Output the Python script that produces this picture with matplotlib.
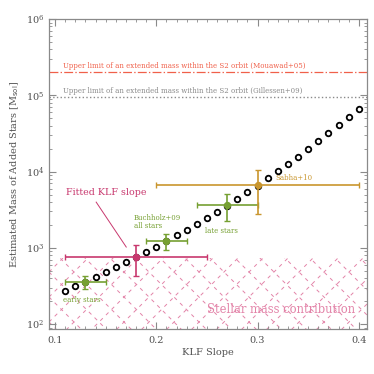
import numpy as np
import matplotlib
matplotlib.use("Agg")
import matplotlib.pyplot as plt
from matplotlib.ticker import LogLocator, MultipleLocator, NullFormatter
from matplotlib.patches import Rectangle

plt.rcParams['font.family'] = ['DejaVu Serif']
plt.rcParams['lines.scale_dashes'] = False

# Data
klf_slope = [0.11, 0.12, 0.13, 0.14, 0.15, 0.16, 0.17, 0.18, 0.19, 0.20,
             0.21, 0.22, 0.23, 0.24, 0.25, 0.26, 0.27, 0.28, 0.29, 0.30,
             0.31, 0.32, 0.33, 0.34, 0.35, 0.36, 0.37, 0.38, 0.39, 0.40]
added_mass = [268, 312, 357, 413, 477, 554, 645, 750, 879, 1023,
              1227, 1455, 1709, 2067, 2475, 2970, 3580, 4353, 5330, 6550,
              8150, 10250, 12540, 15630, 19720, 24890, 31700, 40360, 51870, 66070]

mouawad_limit = 2.0e5
gillessen_limit = 9.4e4
stellar_mass_level = 740

# Error-bar measurements: x, y, xerr, y_low, y_high
fitted_x, fitted_y, fitted_xerr, fitted_ylo, fitted_yhi = 0.18, 750, 0.07, 426, 1077
early_x, early_y, early_xerr, early_ylo, early_yhi = 0.13, 352, 0.02, 285, 430
all_x, all_y, all_xerr, all_ylo, all_yhi = 0.21, 1236, 0.02, 933, 1527
late_x, late_y, late_xerr, late_ylo, late_yhi = 0.27, 3640, 0.03, 2265, 5025
sabha_x, sabha_y, sabha_xerr, sabha_ylo, sabha_yhi = 0.30, 6650, 0.10, 2775, 10480

RED = '#c8386e'
GREEN = '#76a032'
GOLD = '#c9962e'
PINK = '#e383a8'
ORANGE = '#f0604a'
GRAY = '#8a8a8a'
TXT = '#505050'

fig = plt.figure(figsize=(3.74, 3.74), dpi=100)
AX_RECT = [0.131, 0.120, 0.850, 0.829]
ax = fig.add_axes(AX_RECT)
xmin, xmax = 0.094, 0.408
ymin, ymax = 86, 1e6
ax.set_xlim(xmin, xmax)
ax.set_yscale('log')
ax.set_ylim(ymin, ymax)

# stellar mass region: dashed diagonal cross-hatching
clip = Rectangle((xmin, ymin), xmax - xmin, stellar_mass_level - ymin,
                 transform=ax.transData, facecolor='none', edgecolor='none')
ax.add_patch(clip)
W = 374 * AX_RECT[2]
H = 374 * AX_RECT[3]
P = 25.0
for sgn in (1, -1):
    for c in np.arange(-W - 2 * P, H + W + 2 * P, P):
        if sgn == 1:
            ys = [c / H, (W + c) / H]
        else:
            ys = [c / H, (c - W) / H]
        ln, = ax.plot([0, 1], ys, transform=ax.transAxes, color=PINK, lw=0.7,
                      dashes=(2.6, 3.2), zorder=1)
        ln.set_clip_path(clip)

# horizontal limits
ax.axhline(mouawad_limit, color=ORANGE, ls='-.', lw=0.9, zorder=2)
ax.axhline(gillessen_limit, color=GRAY, ls=':', lw=1.0, zorder=2)
ax.text(0.108, mouawad_limit * 1.07, 'Upper limit of an extended mass within the S2 orbit (Mouawad+05)',
        color=ORANGE, fontsize=5.0, va='bottom', ha='left')
ax.text(0.108, gillessen_limit * 1.07, 'Upper limit of an extended mass within the S2 orbit (Gillessen+09)',
        color=GRAY, fontsize=5.0, va='bottom', ha='left')

# model points
ax.plot(klf_slope, added_mass, ls='none', marker='o', ms=4.0, mfc='white',
        mec='black', mew=1.3, zorder=3)

def eb(x, y, xe, ylo, yhi, c):
    ax.errorbar([x], [y], xerr=[[xe], [xe]], yerr=[[y - ylo], [yhi - y]],
                fmt='o', color=c, ms=4.3, lw=1.2, capsize=2.5, capthick=1.0, zorder=4)

eb(fitted_x, fitted_y, fitted_xerr, fitted_ylo, fitted_yhi, RED)
eb(early_x, early_y, early_xerr, early_ylo, early_yhi, GREEN)
eb(all_x, all_y, all_xerr, all_ylo, all_yhi, GREEN)
eb(late_x, late_y, late_xerr, late_ylo, late_yhi, GREEN)
eb(sabha_x, sabha_y, sabha_xerr, sabha_ylo, sabha_yhi, GOLD)

# annotations
ax.text(0.111, 5400, 'Fitted KLF slope', color=RED, fontsize=6.8, va='center', ha='left')
ax.plot([0.1406, 0.1703], [3980, 1025], color=RED, lw=0.7)
ax.text(0.178, 2180, 'Buchholz+09\nall stars', color=GREEN, fontsize=5.0, va='center',
        ha='left', linespacing=1.1)
ax.text(0.108, 207, 'early stars', color=GREEN, fontsize=5.0, va='center', ha='left')
ax.text(0.2485, 1660, 'late stars', color=GREEN, fontsize=5.0, va='center', ha='left')
ax.text(0.318, 8220, 'Sabha+10', color=GOLD, fontsize=5.0, va='center', ha='left')
ax.text(0.2505, 157, 'Stellar mass contribution', color=PINK, fontsize=8.3, va='center', ha='left')

# axes styling
for s in ax.spines.values():
    s.set_color(GRAY)
    s.set_linewidth(0.9)
ax.xaxis.set_major_locator(MultipleLocator(0.1))
ax.xaxis.set_minor_locator(MultipleLocator(0.01))
ax.yaxis.set_major_locator(LogLocator(base=10, numticks=10))
ax.yaxis.set_minor_locator(LogLocator(base=10, subs=np.arange(2, 10), numticks=20))
ax.yaxis.set_minor_formatter(NullFormatter())
ax.tick_params(which='both', direction='in', top=True, right=True, color=GRAY,
               labelcolor=TXT, labelsize=7)
ax.tick_params(which='major', length=5, width=0.8)
ax.tick_params(which='minor', length=2.5, width=0.6)
ax.tick_params(axis='x', pad=5)
ax.set_xticks([0.1, 0.2, 0.3, 0.4])
ax.set_xticklabels(['0.1', '0.2', '0.3', '0.4'])
ax.set_xlabel('KLF Slope', color=TXT, fontsize=7, labelpad=2)
ax.set_ylabel(r'Estimated Mass of Added Stars [M$_{\rm sol}$]', color=TXT, fontsize=7, labelpad=3)

fig.savefig('out.png', dpi=100)
